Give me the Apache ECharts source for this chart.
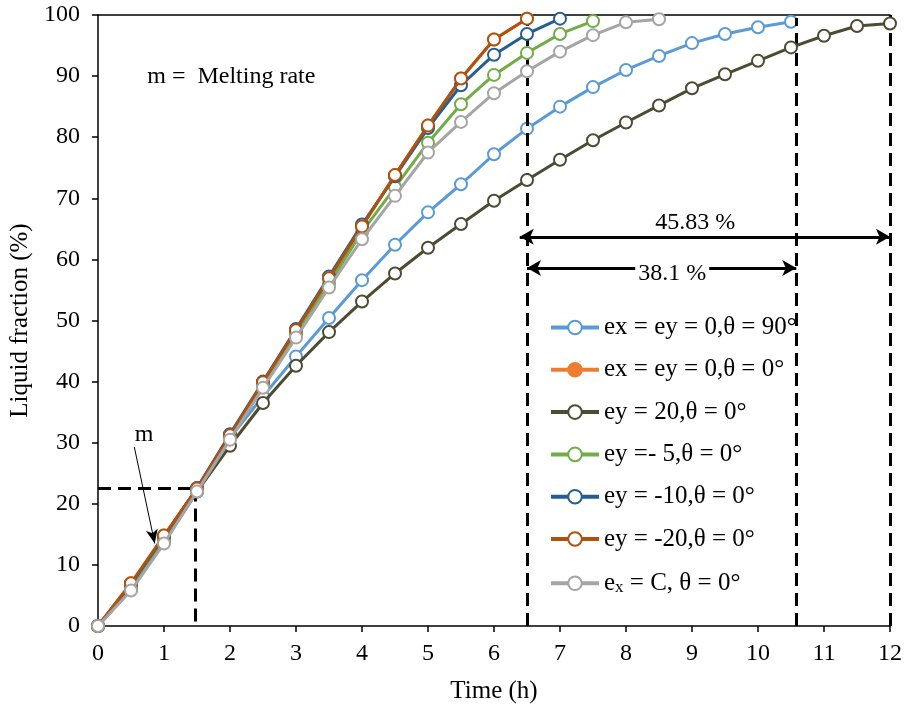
<!DOCTYPE html>
<html>
<head>
<meta charset="utf-8">
<script src="https://cdn.jsdelivr.net/npm/echarts@6/dist/echarts.min.js"></script>
<style>html,body{margin:0;padding:0;background:#fff}#c{width:906px;height:709px}</style>
</head>
<body>
<div id="c"></div>
<script>
// time in hours (every 0.5 h)
var time = [0,0.5,1,1.5,2,2.5,3,3.5,4,4.5,5,5.5,6,6.5,7,7.5,8,8.5,9,9.5,10,10.5,11,11.5,12];
var xTicks = [0,1,2,3,4,5,6,7,8,9,10,11,12];
var yTicks = [0,10,20,30,40,50,60,70,80,90,100];

var seriesNames = ['ex = ey = 0,θ = 90°','ex = ey = 0,θ = 0°','ey = 20,θ = 0°','ey =- 5,θ = 0°','ey = -10,θ = 0°','ey = -20,θ = 0°','ex = C, θ = 0°'];
var seriesColors = ['#5B9BD5','#ED7D31','#4D4B31','#70AD47','#255E91','#B0520F','#A5A5A5'];

var liq90  = [0,6.0,13.8,22.0,30.8,37.6,44.1,50.4,56.6,62.4,67.7,72.3,77.2,81.4,85.0,88.2,91.0,93.3,95.4,96.9,98.0,98.9];
var liq0   = [0,7.0,14.8,22.5,31.2,39.9,48.4,56.9,65.4,73.8,81.9,89.6,96.0,99.4];
var liqE20 = [0,6.0,13.8,22.0,29.5,36.5,42.6,48.1,53.1,57.7,61.9,65.8,69.6,73.0,76.3,79.5,82.4,85.2,88.0,90.3,92.5,94.7,96.6,98.2,98.6];
var liqM5  = [0,6.5,14.2,22.4,31.0,39.4,47.8,56.0,64.5,71.8,79.1,85.4,90.2,93.8,96.9,99.0];
var liqM10 = [0,6.8,14.6,22.6,31.4,40.0,48.6,57.2,65.7,73.6,81.5,88.5,93.5,96.9,99.4];
var liqM20 = [0,7.0,14.8,22.5,31.2,39.9,48.4,56.9,65.4,73.8,81.9,89.6,96.0,99.4];
var liqC   = [0,5.8,13.5,22.0,30.5,39.0,47.2,55.4,63.3,70.4,77.5,82.5,87.2,90.8,94.0,96.7,98.8,99.3];

var allData = [liq90, liq0, liqE20, liqM5, liqM10, liqM20, liqC];

var FONT = 'Liberation Serif';

function pairs(arr){ return arr.map(function(v,i){ return [time[i], v]; }); }

var series = allData.map(function(d, i){
  var c = seriesColors[i];
  var filled = (i === 1);
  return {
    name: seriesNames[i],
    type: 'line',
    data: pairs(d),
    symbol: 'circle',
    symbolSize: 12,
    showAllSymbol: true,
    lineStyle: {color: c, width: 3},
    itemStyle: filled ? {color: c, borderColor: c, borderWidth: 2} : {color: '#fff', borderColor: c, borderWidth: 2},
    emphasis: {disabled: true},
    z: 3 + i
  };
});

var dash = {color: '#000', width: 3, type: [13, 7]};
var solid = {color: '#000', width: 3, type: 'solid'};
function seg(a, b, style, s1, s2){
  return [{coord: a, symbol: s1 || 'none', lineStyle: style}, {coord: b, symbol: s2 || 'none'}];
}

series.push({
  name: 'annot',
  type: 'line',
  data: [],
  silent: true,
  z: 20,
  markLine: {
    silent: true,
    animation: false,
    label: {show: false},
    symbolSize: [12, 14],
    emphasis: {disabled: true},
    data: [
      seg([0, 22.5], [1.47, 22.5], dash),
      seg([1.47, 22.5], [1.47, 0], dash),
      seg([6.5, 0], [6.5, 100], dash),
      seg([10.58, 0], [10.58, 99.5], dash),
      seg([12, 0], [12, 100], dash),
      seg([6.39, 63.7], [12, 63.7], solid, 'arrow', 'arrow'),
      seg([6.5, 58.6], [10.58, 58.6], solid, 'arrow', 'arrow'),
      [{coord: [0.55, 29.3], symbol: 'none', symbolSize: 0, lineStyle: {color: '#000', width: 1, type: 'solid'}}, {coord: [0.86, 13.5], symbol: 'arrow', symbolSize: [9, 14]}]
    ]
  },
  markPoint: {
    silent: true,
    animation: false,
    symbol: 'rect',
    symbolSize: 0,
    data: [
      {coord: [9.05, 66.0], label: {show: true, formatter: '45.83 %', fontFamily: FONT, fontSize: 24, color: '#000'}},
      {coord: [8.7, 57.7], label: {show: true, formatter: '38.1 %', fontFamily: FONT, fontSize: 24, color: '#000', backgroundColor: '#fff', padding: [0, 3]}},
      {coord: [0.7, 31.3], label: {show: true, formatter: 'm', fontFamily: FONT, fontSize: 24, color: '#000'}},
      {coord: [2.02, 89.85], label: {show: true, formatter: 'm =  Melting rate', fontFamily: FONT, fontSize: 24, color: '#000'}}
    ]
  }
});

var chart = echarts.init(document.getElementById('c'), null, {renderer: 'canvas'});
chart.setOption({
  animation: false,
  backgroundColor: '#fff',
  grid: {left: 98, right: 16, top: 15, bottom: 83, containLabel: false},
  legend: {
    data: seriesNames,
    orient: 'vertical',
    left: 544,
    top: 310,
    itemWidth: 48,
    itemHeight: 17,
    itemGap: 17.3,
    selectedMode: false,
    lineStyle: {width: 4},
    textStyle: {
      fontFamily: FONT, fontSize: 25, color: '#000', lineHeight: 25,
      rich: {
        n: {fontFamily: FONT, fontSize: 25, color: '#000', lineHeight: 25},
        sub: {fontFamily: FONT, fontSize: 17, color: '#000', lineHeight: 25, verticalAlign: 'bottom', padding: [10, 0, 0, 0]}
      }
    },
    formatter: function(name){
      if (name === 'ex = C, θ = 0°') return '{n|e}{sub|x}{n| = C, θ = 0°}';
      return name;
    }
  },
  xAxis: [{
    type: 'value',
    min: 0, max: 12, interval: 1,
    name: 'Time (h)',
    nameLocation: 'middle',
    nameGap: 53,
    nameTextStyle: {fontFamily: FONT, fontSize: 25, color: '#000'},
    axisLine: {onZero: false, lineStyle: {color: '#000', width: 1.5}},
    axisTick: {show: true, inside: false, length: 6, lineStyle: {color: '#000', width: 1.5}},
    axisLabel: {fontFamily: FONT, fontSize: 24, color: '#000', margin: 16},
    splitLine: {show: false}
  }, {
    type: 'value', position: 'top', min: 0, max: 12,
    axisLine: {show: true, onZero: false, lineStyle: {color: '#000', width: 1.5}},
    axisTick: {show: false}, axisLabel: {show: false}, splitLine: {show: false}
  }],
  yAxis: {
    type: 'value',
    min: 0, max: 100, interval: 10,
    name: 'Liquid fraction (%)',
    nameLocation: 'middle',
    nameGap: 63,
    nameTextStyle: {fontFamily: FONT, fontSize: 25, color: '#000'},
    axisLine: {show: true, onZero: false, lineStyle: {color: '#000', width: 1.5}},
    axisTick: {show: true, inside: false, length: 6, lineStyle: {color: '#000', width: 1.5}},
    axisLabel: {fontFamily: FONT, fontSize: 24, color: '#000', margin: 18},
    splitLine: {show: false}
  },
  series: series
});
</script>
</body>
</html>
